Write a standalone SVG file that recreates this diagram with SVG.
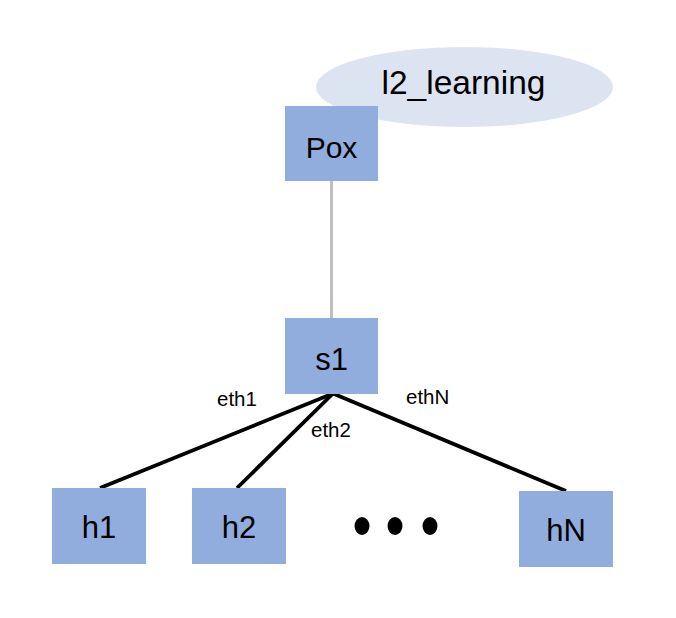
<svg xmlns="http://www.w3.org/2000/svg" width="676" height="618" viewBox="0 0 676 618">
<style>
.box{fill:#91ADDD;}
.lbl{font-family:"Liberation Sans",Arial,sans-serif;fill:#000;text-anchor:middle;}
.big{font-size:31px;}
.eth{font-size:20.5px;text-anchor:start;}
.link{stroke:#000;stroke-width:3.8;fill:none;}
</style>
<rect width="676" height="618" fill="#fff"/>
<g id="l2_learning">
<ellipse cx="464.5" cy="87" rx="148.5" ry="40" fill="#DCE4F2"/>
<text class="lbl" x="463.5" y="94" font-size="33.5">l2_learning</text>
</g>
<g id="connectors">
<line x1="331.5" y1="181" x2="331.5" y2="318" stroke="#BFBFBF" stroke-width="3"/>
<line class="link" x1="333" y1="393.5" x2="100" y2="488"/>
<line class="link" x1="333" y1="393.5" x2="237" y2="488"/>
<line class="link" x1="333" y1="393.5" x2="566" y2="491"/>
<text class="lbl eth" x="217" y="406">eth1</text>
<text class="lbl eth" x="311" y="437">eth2</text>
<text class="lbl eth" x="406" y="404">ethN</text>
</g>
<g id="Pox">
<rect class="box" x="285" y="106" width="93" height="75"/>
<text class="lbl" x="331.5" y="158" font-size="30">Pox</text>
</g>
<g id="s1">
<rect class="box" x="285" y="318" width="93" height="76"/>
<text class="lbl big" x="331.5" y="370">s1</text>
</g>
<g id="h1">
<rect class="box" x="52" y="488" width="94" height="76"/>
<text class="lbl big" x="99" y="538">h1</text>
</g>
<g id="h2">
<rect class="box" x="192" y="488" width="94" height="76"/>
<text class="lbl big" x="239" y="538">h2</text>
</g>
<g id="dots">
<ellipse cx="362" cy="526" rx="7.5" ry="9"/>
<ellipse cx="395" cy="526" rx="7.5" ry="9"/>
<ellipse cx="430" cy="526" rx="7.5" ry="9"/>
</g>
<g id="hN">
<rect class="box" x="519" y="491" width="94" height="76"/>
<text class="lbl big" x="566" y="541">hN</text>
</g>
</svg>
